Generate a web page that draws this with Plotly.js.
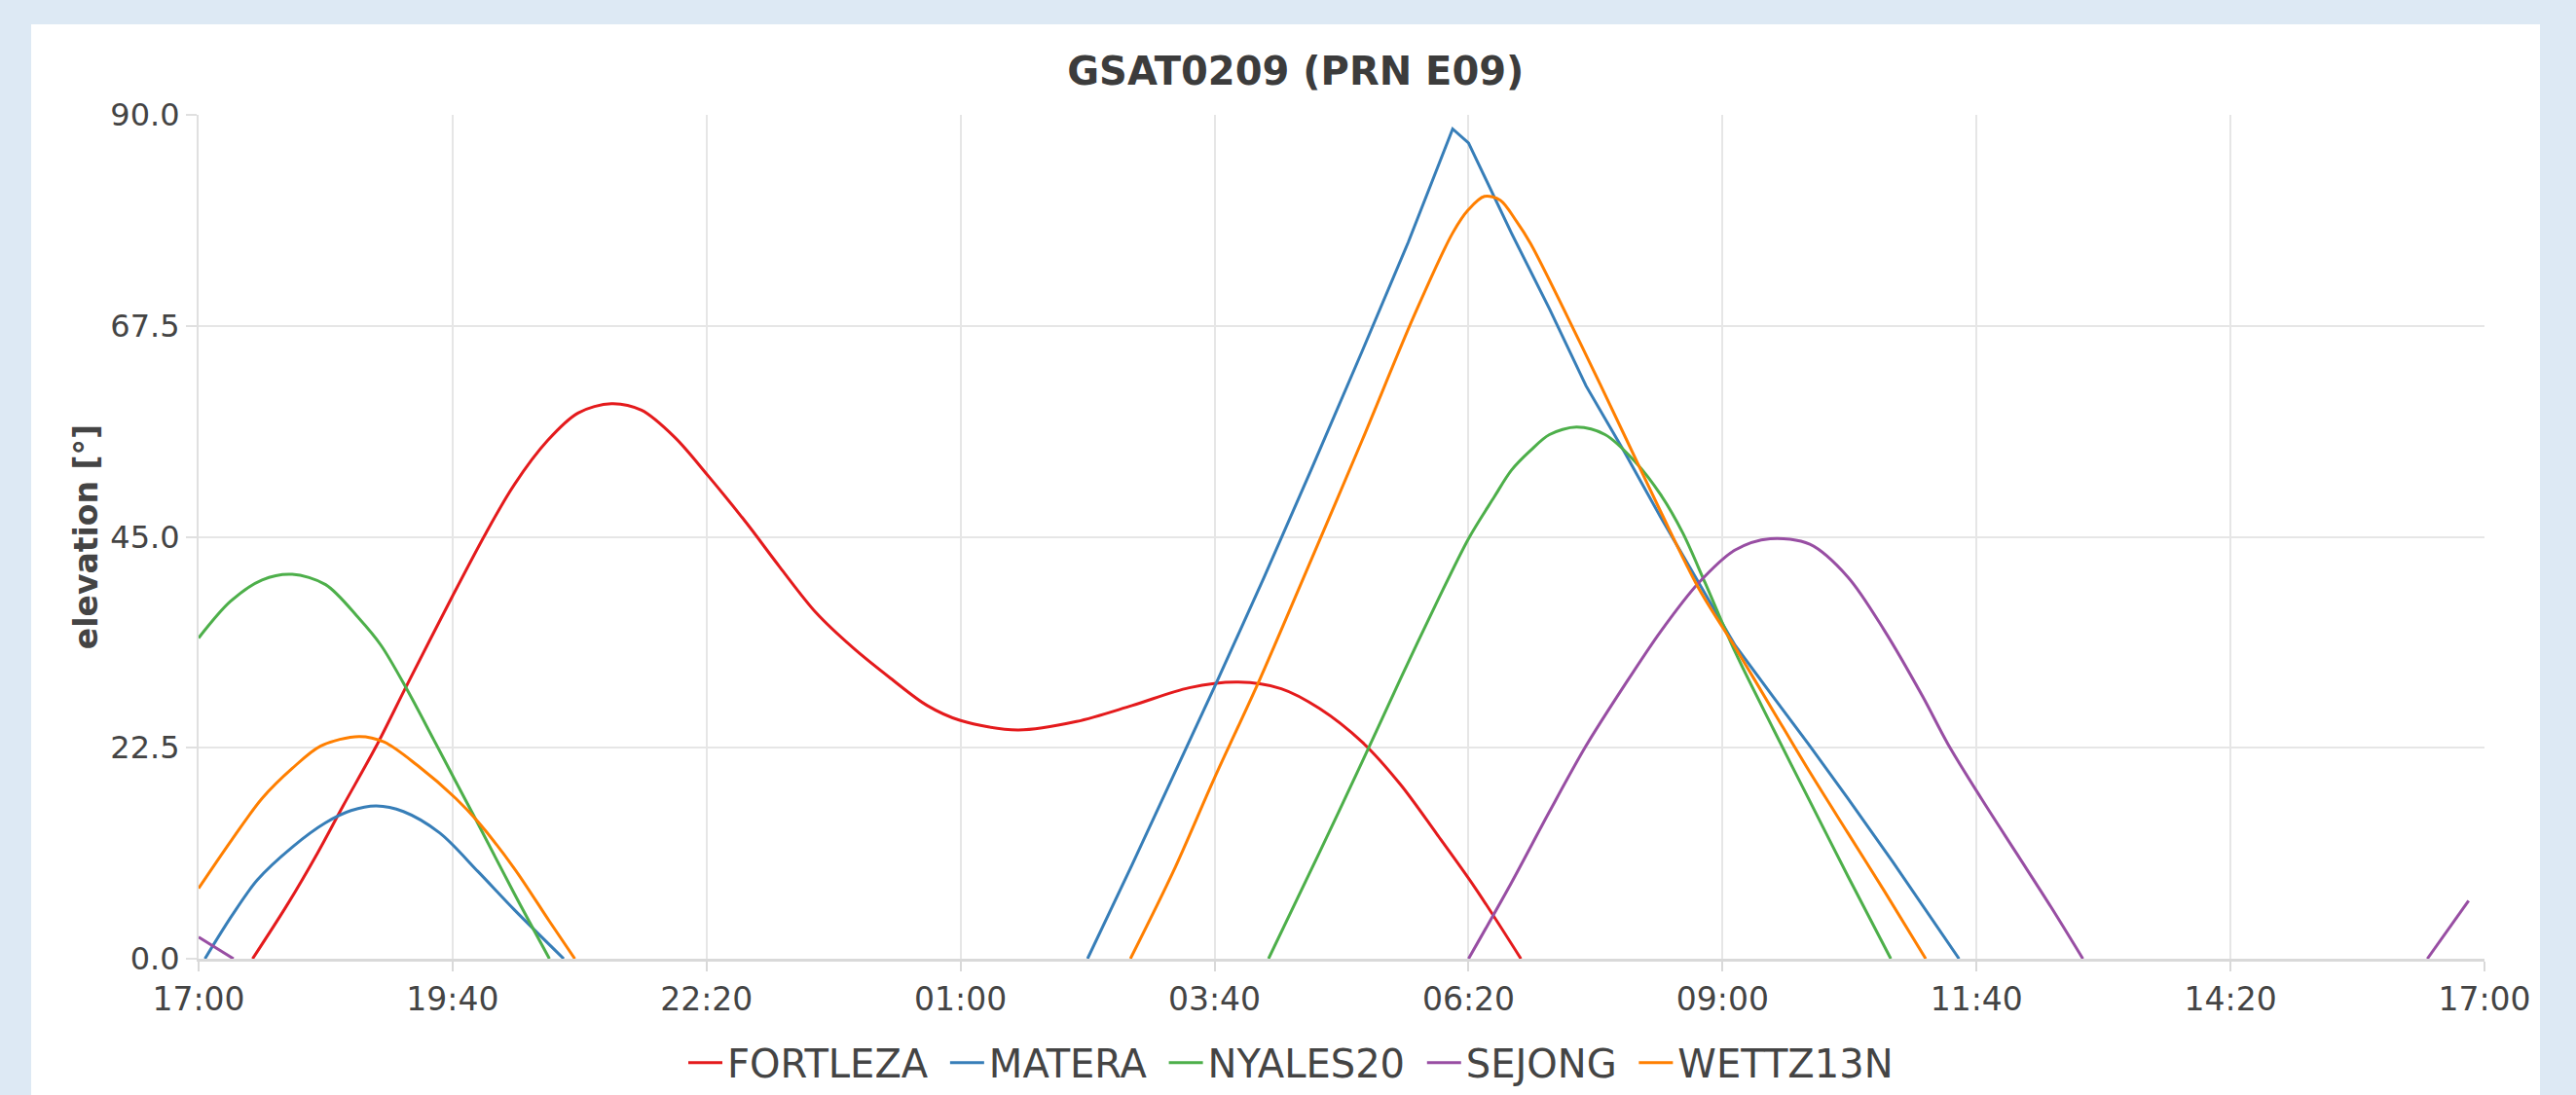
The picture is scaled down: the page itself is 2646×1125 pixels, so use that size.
<!DOCTYPE html>
<html><head><meta charset="utf-8">
<script src="https://cdn.plot.ly/plotly-3.0.1.min.js"></script>
<style>
html,body{margin:0;padding:0;background:#dde9f4;width:2646px;height:1125px;overflow:hidden;}
#card{position:absolute;left:32px;top:25px;width:2577px;height:1100px;background:#fff;}
#chart{width:2577px;height:1100px;}
</style></head><body><div id="card"><div id="chart"></div></div>
<script>
// minutes after 17:00 (day 1) and elevation in degrees; null = satellite below horizon (gap)
const FORTLEZA_t = [34, 56, 75, 91, 112, 131, 160, 181, 199, 220, 239, 260, 279, 300, 321, 345, 366, 389, 412, 436, 459, 480, 516, 553, 588, 624, 655, 682, 706, 733, 757, 780, 804, 833];
const FORTLEZA_e = [0, 5.8, 11.3, 16.3, 22.7, 29.1, 38.7, 45.4, 50.6, 55.3, 58.2, 59.2, 58.5, 55.6, 51.5, 46.5, 41.8, 36.9, 33.2, 29.9, 27.0, 25.4, 24.4, 25.3, 27.0, 28.9, 29.5, 28.8, 26.7, 23.1, 18.6, 13.3, 7.6, 0];

const MATERA_t = [4, 21, 37, 59, 80, 96, 112, 129, 152, 176, 199, 230, null, 560, 588, 614, 640, 671, 701, 733, 762, 790, 800, 827, 851, 874, 898, 921, 945, 968, 992, 1015, 1039, 1067, 1109];
const MATERA_e = [0, 4.6, 8.4, 11.9, 14.5, 15.8, 16.3, 15.7, 13.4, 9.3, 5.2, 0, null, 0, 10.0, 19.5, 29.0, 40.6, 52.2, 64.8, 76.4, 88.5, 87.0, 77.4, 69.3, 61.1, 54.1, 47.1, 40.1, 33.4, 27.9, 22.7, 17.1, 10.4, 0];

const NYALES20_t = [0, 20, 40, 59, 80, 101, 115, 131, 148, 162, 176, 199, 221, null, 674, 706, 733, 757, 780, 800, 816, 827, 839, 851, 868, 886, 905, 921, 935, 949, 968, 992, 1015, 1039, 1066];
const NYALES20_e = [34.2, 38.1, 40.4, 41.0, 39.9, 36.3, 33.4, 28.8, 23.4, 18.9, 14.4, 6.9, 0, null, 0, 11.3, 21.0, 29.8, 38.0, 44.8, 49.2, 52.1, 54.2, 55.9, 56.7, 55.9, 53.0, 49.5, 45.4, 40.1, 32.7, 24.5, 16.8, 8.8, 0];

const SEJONG_t = [0, 22, null, 800, 827, 851, 874, 898, 921, 945, 968, 990, 1015, 1039, 1062, 1086, 1102, 1123, 1145, 1167, 1187, null, 1404, 1430];
const SEJONG_e = [2.3, 0, null, 0, 8.1, 15.7, 22.7, 29.1, 34.9, 40.1, 43.6, 44.8, 44.2, 40.7, 35.0, 28.0, 22.9, 17.1, 11.3, 5.5, 0, null, 0, 6.2];

const WETTZ13N_t = [0, 21, 40, 59, 77, 101, 117, 138, 162, 176, 199, 221, 237, null, 587, 614, 640, 668, 699, 733, 766, 790, 800, 810, 820, 830, 839, 870, 898, 921, 945, 968, 992, 1015, 1039, 1062, 1088];
const WETTZ13N_e = [7.5, 12.7, 17.1, 20.3, 22.7, 23.7, 23.1, 20.6, 17.1, 14.6, 9.6, 4.0, 0, null, 0, 9.3, 19.3, 29.6, 41.8, 55.3, 68.7, 77.4, 79.9, 81.3, 80.9, 78.7, 76.3, 65.8, 55.9, 47.7, 39.5, 33.2, 26.4, 19.9, 13.4, 7.2, 0];

const stations = ["FORTLEZA", "MATERA", "NYALES20", "SEJONG", "WETTZ13N"];
const colors = ["#e41a1c", "#377eb8", "#4daf4a", "#984ea3", "#ff7f00"];
const seriesT = [FORTLEZA_t, MATERA_t, NYALES20_t, SEJONG_t, WETTZ13N_t];
const seriesE = [FORTLEZA_e, MATERA_e, NYALES20_e, SEJONG_e, WETTZ13N_e];
// line shape per pass (style only): MATERA's near-zenith pass is drawn with straight segments
const passShapes = [['spline'], ['spline', 'linear'], ['spline'], ['spline'], ['spline']];
const tickStep = 160; // minutes

const base = Date.UTC(2020, 0, 1, 17, 0, 0);
function toDate(m) {
  if (m === null) return null;
  return new Date(base + m * 60000).toISOString().replace('T', ' ').slice(0, 19);
}
const FONT = 'DejaVu Sans, Verdana, sans-serif';

const traces = [];
stations.forEach((name, i) => {
  // split into passes at the gaps
  const passes = [];
  let cur = {x: [], y: []};
  seriesT[i].forEach((t, k) => {
    if (t === null) { if (cur.x.length) passes.push(cur); cur = {x: [], y: []}; }
    else { cur.x.push(toDate(t)); cur.y.push(seriesE[i][k]); }
  });
  if (cur.x.length) passes.push(cur);
  passes.forEach((p, j) => {
    const shapes = passShapes[i];
    traces.push({
      type: 'scatter', mode: 'lines', name: name + '\u00a0', legendgroup: name,
      showlegend: j === 0, x: p.x, y: p.y,
      line: {color: colors[i], width: 3, shape: shapes[Math.min(j, shapes.length - 1)], smoothing: 0.9},
      hoverinfo: 'x+y'
    });
  });
});

const layout = {
  width: 2577, height: 1100,
  paper_bgcolor: '#ffffff', plot_bgcolor: '#ffffff',
  margin: {l: 172, r: 57, t: 93, b: 140, autoexpand: false},
  font: {family: FONT, color: '#444'},
  title: {text: '<b>GSAT0209 (PRN E09)</b>', font: {family: FONT, size: 40, color: '#3c3c3c'},
          x: 0.504, xanchor: 'center', xref: 'container', y: 0.956, yanchor: 'middle', yref: 'container'},
  xaxis: {
    type: 'date', range: [toDate(0), toDate(1440)], tick0: toDate(0), dtick: tickStep * 60000,
    tickformat: '%H:%M', tickfont: {family: FONT, size: 33, color: '#444'},
    showgrid: true, gridcolor: '#e6e6e6', gridwidth: 2,
    showline: true, linecolor: '#d9d9d9', linewidth: 3,
    ticks: 'outside', ticklen: 10, tickwidth: 2, tickcolor: '#d9d9d9',
    zeroline: false, automargin: false
  },
  yaxis: {
    range: [0, 90], tick0: 0, dtick: 22.5, tickformat: '.1f',
    tickfont: {family: FONT, size: 32, color: '#444'},
    showgrid: true, gridcolor: '#e6e6e6', gridwidth: 2,
    showline: true, linecolor: '#e0e0e0', linewidth: 2,
    ticks: 'outside', ticklen: 11, tickwidth: 2, tickcolor: '#e0e0e0',
    zeroline: false, automargin: false,
    title: {text: '<b>elevation [°]</b>', font: {family: FONT, size: 33, color: '#444'}, standoff: 3}
  },
  showlegend: true,
  legend: {orientation: 'h', x: 0.2121, xanchor: 'left', y: -0.123, yanchor: 'middle', itemwidth: 35,
           traceorder: 'normal',
           font: {family: FONT, size: 40, color: '#444'}, bgcolor: 'rgba(0,0,0,0)'}
};

Plotly.newPlot('chart', traces, layout, {displayModeBar: false, responsive: false});
</script></body></html>
